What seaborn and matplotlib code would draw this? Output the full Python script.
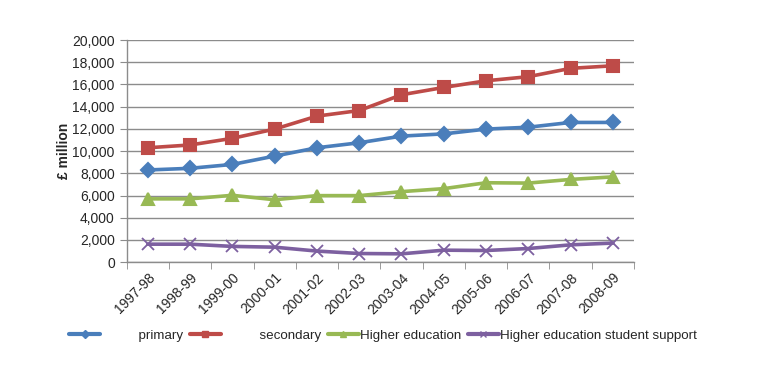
import matplotlib
matplotlib.use("Agg")
import matplotlib.pyplot as plt
import seaborn as sns
import pandas as pd
import numpy as np
from matplotlib.ticker import FuncFormatter, FixedLocator

years = ["1997-98", "1998-99", "1999-00", "2000-01", "2001-02", "2002-03",
         "2003-04", "2004-05", "2005-06", "2006-07", "2007-08", "2008-09"]
primary = [8300, 8450, 8800, 9550, 10300, 10750, 11350, 11550, 11980, 12150, 12580, 12580]
secondary = [10300, 10550, 11150, 11980, 13150, 13650, 15070, 15730, 16330, 16700, 17450, 17680]
higher_ed = [5700, 5700, 6020, 5620, 5990, 5990, 6350, 6620, 7150, 7120, 7450, 7680]
student_support = [1620, 1620, 1420, 1350, 1000, 780, 750, 1080, 1050, 1230, 1560, 1720]

series_names = ["primary", "secondary", "Higher education", "Higher education student support"]
series_vals = [primary, secondary, higher_ed, student_support]

rows = []
for name, vals in zip(series_names, series_vals):
    for i, v in enumerate(vals):
        rows.append({"idx": i, "value": v, "series": name})
df = pd.DataFrame(rows)

sns.set_style("white")
plt.rcParams['font.family'] = ['Liberation Sans', 'DejaVu Sans']

colors = {"primary": "#4A7EBB", "secondary": "#BE4B48",
          "Higher education": "#98B954", "Higher education student support": "#7D60A0"}
markers = {"primary": "D", "secondary": "s",
           "Higher education": "^", "Higher education student support": "x"}
msizes = {"primary": 7, "secondary": 9, "Higher education": 9, "Higher education student support": 9}

fig = plt.figure(figsize=(7.63, 3.74), dpi=100)
ax = fig.add_axes([0.166, 0.299, 0.665, 0.594])

for name in series_names:
    sub = df[df.series == name]
    sns.lineplot(data=sub, x="idx", y="value", ax=ax, color=colors[name],
                 marker=markers[name], markersize=msizes[name], linewidth=2.6,
                 markeredgecolor=colors[name], markeredgewidth=1.5 if name != "Higher education student support" else 1.3,
                 label=name, legend=False)

ax.set_xlim(-0.5, 11.5)
ax.set_ylim(0, 20000)
ax.set_yticks(np.arange(0, 20001, 2000))
ax.yaxis.set_major_formatter(FuncFormatter(lambda v, p: f"{int(v):,}"))
ax.yaxis.grid(True, color="#8c8c8c", linewidth=1.0)
ax.set_axisbelow(True)

ax.set_xticks(range(len(years)))
ax.set_xticklabels(years, rotation=45, ha="right", rotation_mode="anchor", fontsize=10)
ax.xaxis.set_minor_locator(FixedLocator(np.arange(-0.5, 12, 1)))
ax.tick_params(axis="x", which="major", length=0, pad=6)
ax.tick_params(axis="x", which="minor", length=5, color="#8c8c8c", direction="out", bottom=True)
ax.tick_params(axis="y", which="major", length=5, color="#8c8c8c", direction="out", left=True, labelsize=10)

for s in ["top", "right"]:
    ax.spines[s].set_visible(False)
for s in ["left", "bottom"]:
    ax.spines[s].set_color("#8c8c8c")
    ax.spines[s].set_linewidth(1.0)

ax.set_xlabel("")
ax.set_ylabel("£ million", fontsize=10, fontweight="bold", labelpad=1)

handles = [plt.Line2D([], [], color=colors[n], marker=markers[n], markersize=4, linewidth=3)
           for n in series_names]
labels = ["          primary", "          secondary", "Higher education", "Higher education student support"]
fig.legend(handles, labels, loc="center", bbox_to_anchor=(0.502, 0.102), ncol=4, frameon=False,
           fontsize=9.6, handlelength=2.3, handletextpad=0.1, columnspacing=0.5)

fig.savefig("out.png", dpi=100)
